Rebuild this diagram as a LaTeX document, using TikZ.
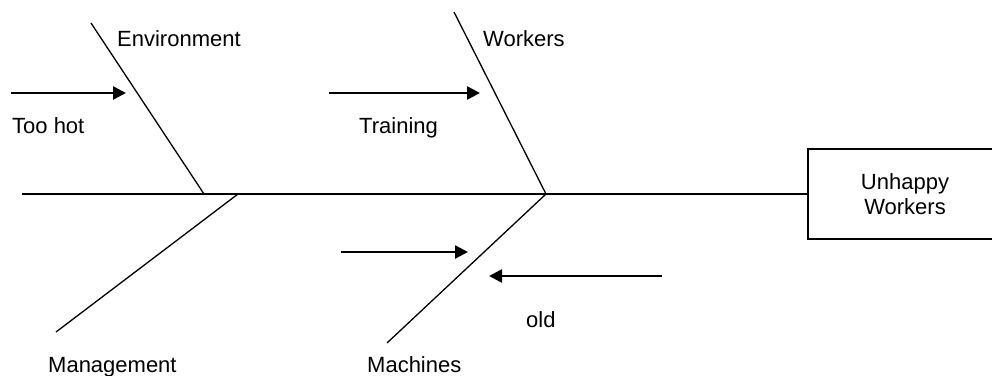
\documentclass[tikz,border=0pt]{standalone}
\usepackage{fontspec}
\setmainfont{Liberation Sans}
\usetikzlibrary{arrows.meta}

\begin{document}
\begin{tikzpicture}[x=1pt,y=-1pt,
 bone/.style={line width=1.3pt},
 cause/.style={line width=2.6pt,-{Triangle[length=13pt,width=13pt]}},
 lbl/.style={inner sep=0pt,anchor=base west,font=\fontsize{22}{25}\selectfont}]
\useasboundingbox (0,0) rectangle (992,375);
\node [rectangle,draw,line width=1.6pt,minimum width=194pt,minimum height=90pt,align=center,
 font=\fontsize{22}{25}\selectfont] (effect) at (905,194) {Unhappy\\Workers};
\coordinate (tail) at (22,194);
\draw [line width=1.6pt] (tail) -- (effect.west);
\coordinate (envtop) at (91,23);  \coordinate (envfoot) at (204,194);
\coordinate (wrktop) at (454,12); \coordinate (wrkfoot) at (546,194);
\coordinate (mgtend) at (56,332); \coordinate (mgtfoot) at (238,194);
\coordinate (mchend) at (387,343);
\draw [bone] (envtop) -- (envfoot);
\draw [bone] (wrktop) -- (wrkfoot);
\draw [bone] (mgtfoot) -- (mgtend);
\draw [bone] (wrkfoot) -- (mchend);
\node [lbl] (environment) at (117,46) {Environment};
\node [lbl] (workers) at (483,46) {Workers};
\node [lbl] (management) at (48,372) {Management};
\node [lbl] (machines) at (367,372) {Machines};
\node [lbl] (toohot) at (12,133) {Too hot};
\node [lbl] (training) at (359,133) {Training};
\node [lbl] (old) at (526,327) {old};
\coordinate (a1) at (11,93);  \coordinate (b1) at (126,93);
\coordinate (a2) at (329,93); \coordinate (b2) at (480,93);
\coordinate (a3) at (341,252); \coordinate (b3) at (468,252);
\coordinate (a4) at (662,276); \coordinate (b4) at (489,276);
\draw [cause] (a1) -- (b1);
\draw [cause] (a2) -- (b2);
\draw [cause] (a3) -- (b3);
\draw [cause] (a4) -- (b4);
\end{tikzpicture}
\end{document}
